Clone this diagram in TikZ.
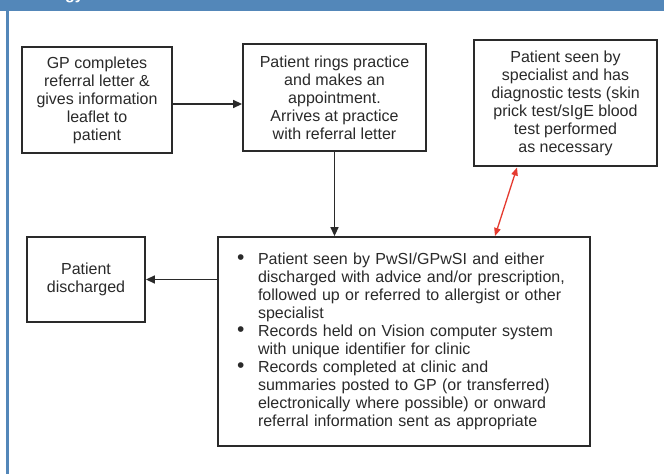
\documentclass[tikz,border=0pt]{standalone}
\usepackage{fontspec}
\setmainfont{Liberation Sans}
\usetikzlibrary{arrows.meta}
\definecolor{hdr}{HTML}{5387B9}
\definecolor{ink}{HTML}{2A2A2A}
\definecolor{redarr}{HTML}{E53A2F}
\newcommand{\bigbul}{\makebox[21pt][l]{\raisebox{0.5pt}{\fontsize{21}{18}\selectfont\textbullet}}}
\begin{document}
\begin{tikzpicture}[x=1pt,y=-1pt,
  box/.style={draw=ink,line width=1.8pt,text=ink,align=center,inner sep=0pt,
    font=\fontsize{16}{18}\selectfont},
  arr/.style={draw=ink,line width=1.4pt,-{Triangle[length=9pt,width=8pt]}},
  redarrow/.style={draw=redarr,line width=1.3pt,{Triangle[length=8pt,width=6.5pt]}-{Triangle[length=8pt,width=6.5pt]}}]
\clip (0,0) rectangle (664,474);
\fill[white] (0,0) rectangle (664,474);
\fill[hdr] (0,0) rectangle (664,11);
\fill[hdr] (5.5,11) rectangle (8.5,474);
\node[anchor=base west,text=white,inner sep=0pt,font=\bfseries\fontsize{16}{16}\selectfont] (title) at (65,-1) {gy};

\node[box,minimum width=150pt,minimum height=106pt] (gp) at (97,100)
  {GP completes\\referral letter \&\\gives information\\leaflet to\\patient};
\node[box,minimum width=183pt,minimum height=107pt] (rings) at (334.5,97.5)
  {Patient rings practice\\and makes an\\appointment.\\Arrives at practice\\with referral letter};
\node[box,minimum width=183pt,minimum height=126pt] (spec) at (565.5,103)
  {Patient seen by\\specialist and has\\diagnostic tests (skin\\prick test/sIgE blood\\test performed\\as necessary};
\node[box,minimum width=372pt,minimum height=209pt,align=left,text width=334pt,inner xsep=19pt] (big) at (404,341.5)
  {\bigbul Patient seen by PwSI/GPwSI and either\\
   \hspace*{21pt}discharged with advice and/or prescription,\\
   \hspace*{21pt}followed up or referred to allergist or other\\
   \hspace*{21pt}specialist\\
   \bigbul Records held on Vision computer system\\
   \hspace*{21pt}with unique identifier for clinic\\
   \bigbul Records completed at clinic and\\
   \hspace*{21pt}summaries posted to GP (or transferred)\\
   \hspace*{21pt}electronically where possible) or onward\\
   \hspace*{21pt}referral information sent as appropriate};
\node[box,minimum width=118pt,minimum height=85pt] (disc) at (86,279.5)
  {Patient\\discharged};

\coordinate (r1) at (517,167.5);
\coordinate (r2) at (495,236);

\draw[arr] (gp.east |- 0,104) -- (rings.west |- 0,104);
\draw[arr] (rings.south) -- (big.north -| rings.south);
\draw[arr] (big.west |- disc.east) -- (disc.east);
\draw[redarrow] (r1) -- (r2);
\end{tikzpicture}
\end{document}
